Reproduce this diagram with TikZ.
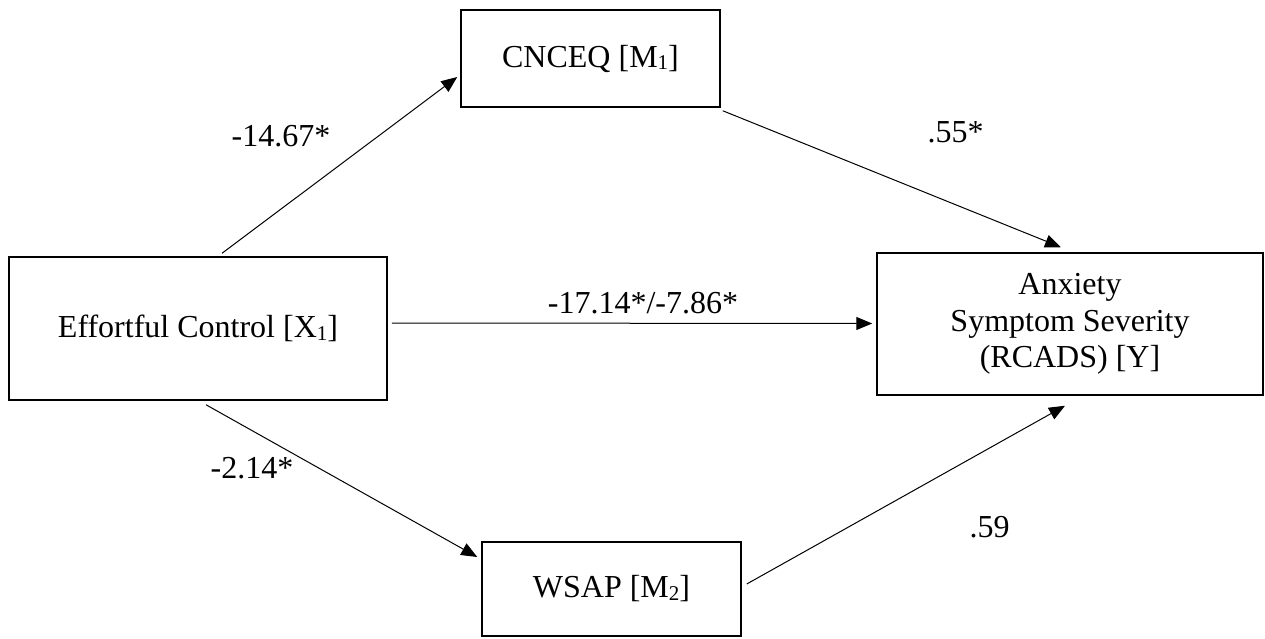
\documentclass[tikz,border=0pt]{standalone}
\usepackage{fontspec}
\setmainfont{Liberation Serif}
\usetikzlibrary{arrows.meta}
% lowered, smaller digit used as index in the box labels
\newcommand{\idx}[1]{\raisebox{-0.08em}{\fontsize{21}{21}\selectfont #1}}
\begin{document}
\begin{tikzpicture}[x=1pt,y=1pt,
  box/.style={draw, line width=1.5pt, inner sep=0pt, align=center,
    font=\fontsize{32}{36.5}\selectfont},
  path/.style={line width=1pt, -{Triangle[length=16pt,width=13pt]}},
  coef/.style={font=\fontsize{32}{34}\selectfont, inner sep=0pt, anchor=base}]
\useasboundingbox (0,0) rectangle (1265,-639);

% variables
\node[box, minimum width=259pt, minimum height=97pt] (m1) at (590.5,-58.5) {\raisebox{-2pt}{CNCEQ [M\idx{1}]}};
\node[box, minimum width=378pt, minimum height=143pt] (x1) at (198,-328.5) {Effortful Control [X\idx{1}]};
\node[box, minimum width=386pt, minimum height=142pt] (y) at (1070,-324) {Anxiety\\Symptom Severity\\(RCADS) [Y]};
\node[box, minimum width=259pt, minimum height=94pt] (m2) at (611.5,-589) {\raisebox{-2pt}{WSAP [M\idx{2}]}};

% paths
\draw[path] ([xshift=24pt,yshift=3pt]x1.north) -- ([xshift=-3pt,yshift=-18.5pt]m1.west);
\draw[path] ([xshift=2pt,yshift=-3pt]m1.south east) -- ([xshift=-9pt,yshift=5pt]y.north);
\draw[path] ([xshift=4pt,yshift=5.5pt]x1.east) -- ([xshift=-4pt,yshift=0.5pt]y.west);
\draw[path] ([xshift=8pt,yshift=-4pt]x1.south) -- ([xshift=-4pt,yshift=32pt]m2.west);
\draw[path] ([xshift=5pt,yshift=5pt]m2.east) -- ([xshift=-5pt,yshift=-10pt]y.south);

% coefficients
\node[coef] (c1) at (281,-147) {-14.67*};
\node[coef] (c2) at (955.5,-143) {.55*};
\node[coef] (c3) at (643,-313) {-17.14*/-7.86*};
\node[coef] (c4) at (252,-478) {-2.14*};
\node[coef] (c5) at (989.5,-537) {.59};
\end{tikzpicture}
\end{document}
